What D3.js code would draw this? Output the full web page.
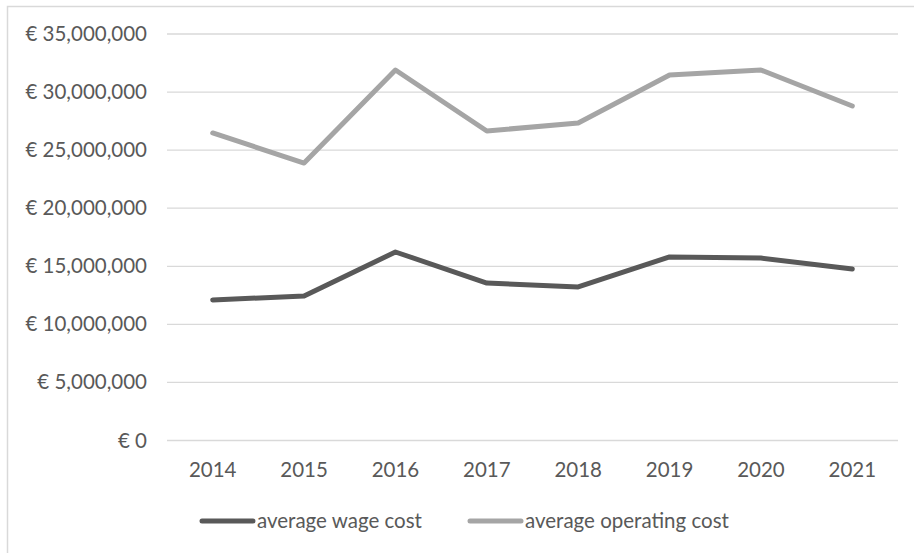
<!DOCTYPE html>
<html>
<head>
<meta charset="utf-8">
<script src="https://cdn.jsdelivr.net/npm/d3@7"></script>
<style>
  html, body { margin: 0; padding: 0; background: #fff; }
  svg { display: block; }
  text { font-family: Lato, "Open Sans", sans-serif; fill: #595959; }
</style>
</head>
<body>
<svg id="chart" width="914" height="553"></svg>
<script>
// Yearly averages, in euro
const years = ["2014", "2015", "2016", "2017", "2018", "2019", "2020", "2021"];
const wageCost = [12100000, 12440000, 16230000, 13560000, 13220000, 15800000, 15710000, 14770000];
const operatingCost = [26480000, 23890000, 31900000, 26650000, 27340000, 31470000, 31900000, 28800000];
const yTicks = [0, 5000000, 10000000, 15000000, 20000000, 25000000, 30000000, 35000000];
const seriesNames = ["average wage cost", "average operating cost"];
const seriesColors = ["#595959", "#A5A5A5"];

(function () {
  const svg = d3.select("#chart");
  const W = 914, H = 553;
  const fontSize = "20.5px";
  const fontFamily = "Lato, 'Open Sans', sans-serif";

  // chart frame (top and left edges fall inside the canvas)
  svg.append("rect")
    .attr("x", 7.5).attr("y", 6.5)
    .attr("width", W + 10).attr("height", H + 10)
    .attr("fill", "none").attr("stroke", "#D9D9D9").attr("stroke-width", 1.5);

  const plotLeft = 167, plotRight = 898, plotTop = 34, plotBottom = 440.5;

  const x = d3.scaleBand().domain(years).range([plotLeft, plotRight]);
  const y = d3.scaleLinear().domain([0, 35000000]).range([plotBottom, plotTop]);

  const fmt = v => "€ " + d3.format(",")(v);

  // horizontal gridlines
  svg.append("g")
    .selectAll("line")
    .data(yTicks)
    .join("line")
    .attr("x1", plotLeft).attr("x2", plotRight)
    .attr("y1", d => y(d)).attr("y2", d => y(d))
    .attr("stroke", "#D9D9D9").attr("stroke-width", 1.3);

  // value axis labels
  const yAxis = d3.axisLeft(y).tickValues(yTicks).tickFormat(fmt).tickSize(0).tickPadding(0);
  const gy = svg.append("g").attr("transform", `translate(${plotLeft - 20},0)`).call(yAxis);
  gy.select(".domain").remove();
  gy.selectAll("text")
    .attr("font-size", fontSize)
    .attr("fill", "#595959")
    .style("font-family", fontFamily);

  // category axis labels
  const xAxis = d3.axisBottom(x).tickSize(0).tickPadding(0);
  const gx = svg.append("g").attr("transform", `translate(0,${plotBottom + 29.5})`).call(xAxis);
  gx.select(".domain").remove();
  gx.selectAll("text")
    .attr("y", 0)
    .attr("dy", "0.35em")
    .attr("font-size", fontSize)
    .attr("fill", "#595959")
    .style("font-family", fontFamily);

  // series lines
  const line = d3.line()
    .x((d, i) => x(years[i]) + x.bandwidth() / 2)
    .y(d => y(d));

  [wageCost, operatingCost].forEach((vals, k) => {
    svg.append("path")
      .datum(vals)
      .attr("d", line)
      .attr("fill", "none")
      .attr("stroke", seriesColors[k])
      .attr("stroke-width", 5)
      .attr("stroke-linejoin", "round")
      .attr("stroke-linecap", "round");
  });

  // legend
  const legendY = 521;
  const legendItems = [
    { x0: 202, name: seriesNames[0], color: seriesColors[0] },
    { x0: 470, name: seriesNames[1], color: seriesColors[1] }
  ];
  const lg = svg.append("g");
  legendItems.forEach(it => {
    lg.append("line")
      .attr("x1", it.x0).attr("x2", it.x0 + 51)
      .attr("y1", legendY).attr("y2", legendY)
      .attr("stroke", it.color).attr("stroke-width", 5)
      .attr("stroke-linecap", "round");
    lg.append("text")
      .attr("x", it.x0 + 55).attr("y", legendY)
      .attr("dy", "0.35em")
      .attr("font-size", fontSize)
      .style("font-family", fontFamily)
      .text(it.name);
  });
})();
</script>
</body>
</html>
